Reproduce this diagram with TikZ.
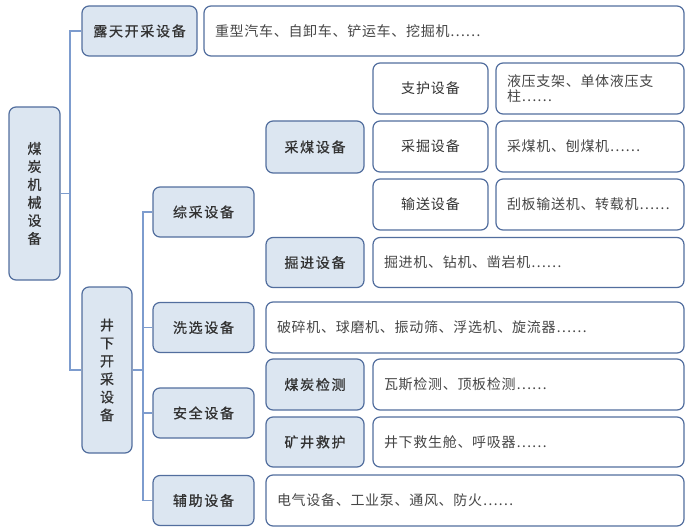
\documentclass[tikz,border=0pt]{standalone}
\usepackage{fontspec}
\usepackage{tikz}
\newfontfamily\cjk[LetterSpace=5]{Noto Sans CJK SC}
\newfontfamily\cjklbl[LetterSpace=12, FakeBold=0.8]{Noto Sans CJK SC}
\newfontfamily\cjksub[LetterSpace=6]{Noto Sans CJK SC}
\definecolor{boxline}{RGB}{82,110,158}
\definecolor{boxfill}{RGB}{220,230,241}
\definecolor{branchline}{RGB}{125,156,206}
\definecolor{txt}{RGB}{50,50,50}
\tikzset{
   equip/.style={draw=boxline, fill=boxfill, line width=1.2pt,
      rounded corners=7pt, inner sep=0pt,
      minimum width=#1, minimum height=50pt, align=center,
      font=\cjklbl\fontsize{14}{18}\selectfont, text=txt},
   sub/.style={equip=#1, fill=white,
      font=\cjksub\fontsize{14}{18}\selectfont},
   detail/.style={draw=boxline, fill=white, line width=1.2pt,
      rounded corners=7pt, inner xsep=11pt, inner ysep=0pt,
      text width=#1, minimum height=50pt, align=left,
      font=\cjk\fontsize{14}{15}\selectfont, text=txt!90},
   branch/.style={draw=branchline, line width=1.6pt},
   }
\begin{document}
\begin{tikzpicture}[x=1pt, y=-1pt]
   \useasboundingbox (0,0) rectangle (693,532);
   % left tree
   \node[equip=51pt, minimum height=173pt] (root) at(34.5,193.5) {煤\\炭\\机\\械\\设\\备};
   \node[equip=115pt] (open) at(139.5,31) {露天开采设备};
   \node[equip=50pt, minimum height=166pt] (under) at(107,370) {井\\下\\开\\采\\设\\备};
   \coordinate (trunkA) at(70,193.5);
   \coordinate (trunkB) at(143,370);
   \draw[branch] (root.east) -- (trunkA);
   \draw[branch] (open.west) -| (trunkA);
   \draw[branch] (under.west) -| (trunkA);
   % second level
   \node[equip=101pt] (fully) at(203.5,212) {综采设备};
   \node[equip=101pt] (wash) at(203.5,327.5) {洗选设备};
   \node[equip=101pt] (safe) at(203.5,413) {安全设备};
   \node[equip=101pt] (aux) at(203.5,500.5) {辅助设备};
   \draw[branch] (under.east) -- (trunkB);
   \draw[branch] (fully.west) -| (trunkB);
   \draw[branch] (wash.west) -| (trunkB);
   \draw[branch] (safe.west) -| (trunkB);
   \draw[branch] (aux.west) -| (trunkB);
   % third level
   \node[equip=98pt, minimum height=52pt] (mine) at(315,147) {采煤设备};
   \node[equip=98pt] (dig) at(315,262.5) {掘进设备};
   \node[equip=98pt, minimum height=51pt] (detect) at(315,384.5) {煤炭检测};
   \node[equip=98pt] (rescue) at(315,442) {矿井救护};
   \node[sub=115pt, minimum height=51pt] (support) at(430.5,88.5) {支护设备};
   \node[sub=115pt, minimum height=51pt] (cut) at(430.5,146.5) {采掘设备};
   \node[sub=115pt, minimum height=51pt] (convey) at(430.5,204.5) {输送设备};
   % details
   \node[detail=458pt] (openlist) at(444,31) {重型汽车、自卸车、铲运车、挖掘机……};
   \node[detail=166pt, minimum height=51pt] (supportlist) at(590,88.5) {液压支架、单体液压支\\柱……};
   \node[detail=166pt, minimum height=51pt] (cutlist) at(590,146.5) {采煤机、刨煤机……};
   \node[detail=166pt, minimum height=51pt] (conveylist) at(590,204.5) {刮板输送机、转载机……};
   \node[detail=289pt] (diglist) at(528.5,262.5) {掘进机、钻机、凿岩机……};
   \node[detail=396pt, minimum height=51pt] (washlist) at(475,327.5) {破碎机、球磨机、振动筛、浮选机、旋流器……};
   \node[detail=289pt, minimum height=51pt] (detectlist) at(528.5,384.5) {瓦斯检测、顶板检测……};
   \node[detail=289pt] (rescuelist) at(528.5,442) {井下救生舱、呼吸器……};
   \node[detail=396pt, minimum height=51pt] (auxlist) at(475,500.5) {电气设备、工业泵、通风、防火……};
\end{tikzpicture}
\end{document}
